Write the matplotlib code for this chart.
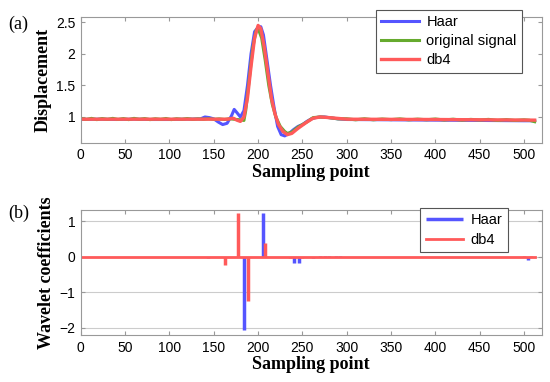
import matplotlib.pyplot as plt

# (a) reconstructed displacement signals
haar_x = [0, 20, 40, 60, 80, 100, 120, 135, 140, 145, 150, 155, 160, 165, 170, 173, 176, 180,
          184, 188, 192, 196, 200, 203, 206, 210, 214, 218, 222, 226, 230, 235, 240, 245, 250,
          255, 260, 265, 270, 275, 280, 290, 300, 350, 400, 450, 500, 512]
haar_y = [0.96, 0.965, 0.96, 0.965, 0.96, 0.96, 0.965, 0.97, 1.0, 0.99, 0.97, 0.92, 0.88, 0.9,
          1.02, 1.12, 1.07, 1.0, 1.1, 1.5, 2.0, 2.35, 2.42, 2.43, 2.3, 1.9, 1.5, 1.15, 0.85,
          0.72, 0.7, 0.74, 0.8, 0.85, 0.88, 0.93, 0.97, 0.99, 1.0, 1.0, 0.99, 0.97, 0.96, 0.955,
          0.95, 0.945, 0.94, 0.94]

orig_x = [0, 6, 12, 18, 24, 30, 36, 42, 48, 54, 60, 66, 72, 78, 84, 90, 96, 102, 108, 114,
          120, 126, 132, 138, 144, 150, 156, 162, 168, 174, 180, 184, 186, 190, 194, 198, 200,
          204, 208, 212, 216, 220, 225, 230, 233, 238, 245, 255, 262, 270, 280, 290, 300, 310,
          320, 330, 340, 350, 360, 370, 380, 390, 400, 410, 420, 430, 440, 450, 460, 470, 480,
          490, 500, 506, 512]
orig_y = [0.975, 0.96, 0.978, 0.958, 0.975, 0.962, 0.978, 0.96, 0.975, 0.958, 0.978, 0.962,
          0.975, 0.958, 0.972, 0.962, 0.976, 0.958, 0.972, 0.963, 0.975, 0.962, 0.97, 0.963,
          0.972, 0.962, 0.97, 0.96, 0.972, 0.962, 0.955, 0.945, 1.1, 1.6, 2.1, 2.38, 2.4, 2.25,
          1.9, 1.5, 1.2, 1.0, 0.85, 0.77, 0.74, 0.76, 0.84, 0.92, 0.99, 1.0, 0.99, 0.97, 0.972,
          0.955, 0.972, 0.955, 0.968, 0.958, 0.97, 0.955, 0.966, 0.956, 0.968, 0.952, 0.965,
          0.95, 0.962, 0.952, 0.962, 0.945, 0.958, 0.945, 0.955, 0.948, 0.925]

db4_x = [0, 50, 100, 150, 165, 172, 176, 180, 184, 188, 192, 196, 200, 203, 207, 211, 215, 219,
         223, 228, 233, 238, 245, 255, 262, 270, 280, 300, 400, 512]
db4_y = [0.965, 0.965, 0.965, 0.965, 0.965, 0.98, 0.95, 0.93, 1.0, 1.3, 1.8, 2.25, 2.45, 2.4,
         2.1, 1.7, 1.3, 1.05, 0.88, 0.77, 0.72, 0.74, 0.82, 0.92, 0.98, 1.0, 0.99, 0.965, 0.96,
         0.95]

# (b) wavelet coefficients
n_samples = 512
haar_pos = [143, 184, 205, 240, 246, 262, 270, 275, 280, 288, 292, 505]
haar_val = [-0.05, -2.05, 1.22, -0.17, -0.17, -0.04, 0.03, 0.03, 0.03, 0.03, 0.03, -0.1]
db4_pos = [163, 177, 189, 208, 236, 250, 500, 508]
db4_val = [-0.22, 1.22, -1.25, 0.38, -0.05, -0.03, 0.03, 0.03]

blue = '#5555ff'
green = '#66aa2e'
red = '#ff5a5a'
spine_gray = '#999999'

plt.rcParams['font.family'] = ['Liberation Sans', 'DejaVu Sans']

fig = plt.figure(figsize=(5.5, 3.82), dpi=100)
ax1 = fig.add_axes([0.147, 0.626, 0.838, 0.329])
ax2 = fig.add_axes([0.147, 0.123, 0.838, 0.327])


def style(ax):
    for s in ax.spines.values():
        s.set_color(spine_gray)
        s.set_linewidth(0.8)
    ax.tick_params(direction='in', top=True, right=True, color=spine_gray,
                   labelsize=10, length=3, pad=4)
    ax.set_xlim(0, 520)
    ax.set_xticks(range(0, 501, 50))
    ax.set_xlabel('Sampling point', family='Liberation Serif', weight='bold',
                  fontsize=13, labelpad=1)


ax1.plot(haar_x, haar_y, color=blue, lw=2.2, label='Haar')
ax1.plot(orig_x, orig_y, color=green, lw=2.2, label='original signal')
ax1.plot(db4_x, db4_y, color=red, lw=2.4, label='db4')
style(ax1)
ax1.set_ylim(0.59, 2.58)
ax1.set_yticks([1, 1.5, 2, 2.5])
ax1.set_yticklabels(['1', '1.5', '2', '2.5'])
ax1.set_ylabel('Displacement', family='Liberation Serif', weight='bold', fontsize=13,
               labelpad=3)
leg1 = ax1.legend(loc='upper right', bbox_to_anchor=(0.957, 1.056), fontsize=10.5,
                  handlelength=2.6, fancybox=False, edgecolor='#555555', borderaxespad=0,
                  labelspacing=0.35, borderpad=0.35, handletextpad=0.5, framealpha=1)
leg1.get_frame().set_linewidth(0.8)

ax2.vlines(haar_pos, 0, haar_val, color=blue, lw=2.5, label='Haar')
ax2.plot([0, n_samples], [0, 0], color=red, lw=2, label='db4')
ax2.vlines(db4_pos, 0, db4_val, color=red, lw=2.5)
style(ax2)
ax2.set_ylim(-2.2, 1.31)
ax2.set_yticks([-2, -1, 0, 1])
ax2.grid(axis='y', color='#cccccc', lw=0.8)
ax2.set_axisbelow(True)
ax2.set_ylabel('Wavelet coefficients', family='Liberation Serif', weight='bold',
               fontsize=13, labelpad=3)
h, l = ax2.get_legend_handles_labels()
leg2 = ax2.legend(h, l, loc='upper right', bbox_to_anchor=(0.926, 1.016), fontsize=10.5,
                  handlelength=2.6, fancybox=False, edgecolor='#555555', borderaxespad=0,
                  labelspacing=0.4, borderpad=0.35, handletextpad=0.5, framealpha=1)
leg2.get_frame().set_linewidth(0.8)

fig.text(0.015, 0.925, '(a)', family='Liberation Serif', fontsize=13)
fig.text(0.015, 0.43, '(b)', family='Liberation Serif', fontsize=13)

fig.savefig('out.png', dpi=100)
